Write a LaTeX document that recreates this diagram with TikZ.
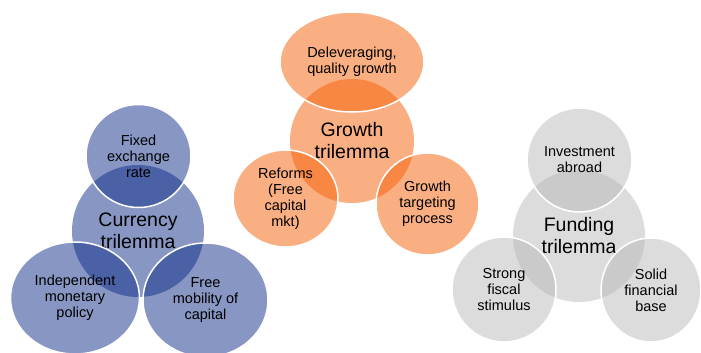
\documentclass[tikz,border=0pt]{standalone}
\usepackage{fontspec}
\setmainfont{Liberation Sans}
\usetikzlibrary{shapes.geometric}
\definecolor{currencyblue}{RGB}{15,45,135}
\definecolor{growthorange}{RGB}{245,95,5}
\definecolor{fundinggrey}{RGB}{185,185,185}

\begin{document}
\begin{tikzpicture}[x=1pt,y=-1pt,
        hub/.style={ellipse,inner sep=0pt,align=center,fill opacity=0.5,text opacity=1,
            font=\fontsize{19.5}{22}\selectfont},
        spoke/.style={ellipse,inner sep=0pt,align=center,fill opacity=0.5,text opacity=1,
            draw=white,line width=1.5pt,font=\fontsize{14.5}{16}\selectfont}]
        \useasboundingbox (0,0) rectangle (701,353);

        \node[hub,fill=currencyblue,minimum width=132,minimum height=132] (currency) at (138,231) {Currency\\trilemma};
        \node[spoke,fill=currencyblue,minimum width=105,minimum height=103] (fixed) at (138.5,156) {Fixed\\exchange\\rate};
        \node[spoke,fill=currencyblue,minimum width=129,minimum height=112] (monetary) at (75,298) {Independent\\monetary\\policy};
        \node[spoke,fill=currencyblue,minimum width=125,minimum height=114] (mobility) at (205.5,300) {Free\\mobility of\\capital};

        \node[hub,fill=growthorange,minimum width=124,minimum height=124] (growth) at (352,141) {Growth\\trilemma};
        \node[spoke,fill=growthorange,minimum width=144,minimum height=100] (delever) at (352,62) {Deleveraging,\\quality growth};
        \node[spoke,fill=growthorange,minimum width=105,minimum height=97] (reforms) at (285.5,198.5) {Reforms\\(Free\\capital\\mkt)};
        \node[spoke,fill=growthorange,minimum width=103,minimum height=102] (targeting) at (427.5,204) {Growth\\targeting\\process};

        \node[hub,fill=fundinggrey,minimum width=132,minimum height=132] (funding) at (579,236) {Funding\\trilemma};
        \node[spoke,fill=fundinggrey,minimum width=105,minimum height=104] (abroad) at (579.5,160) {Investment\\abroad};
        \node[spoke,fill=fundinggrey,minimum width=104,minimum height=105] (fiscal) at (504,289.5) {Strong\\fiscal\\stimulus};
        \node[spoke,fill=fundinggrey,minimum width=100,minimum height=104] (financial) at (651,290) {Solid\\financial\\base};
    \end{tikzpicture}
\end{document}
